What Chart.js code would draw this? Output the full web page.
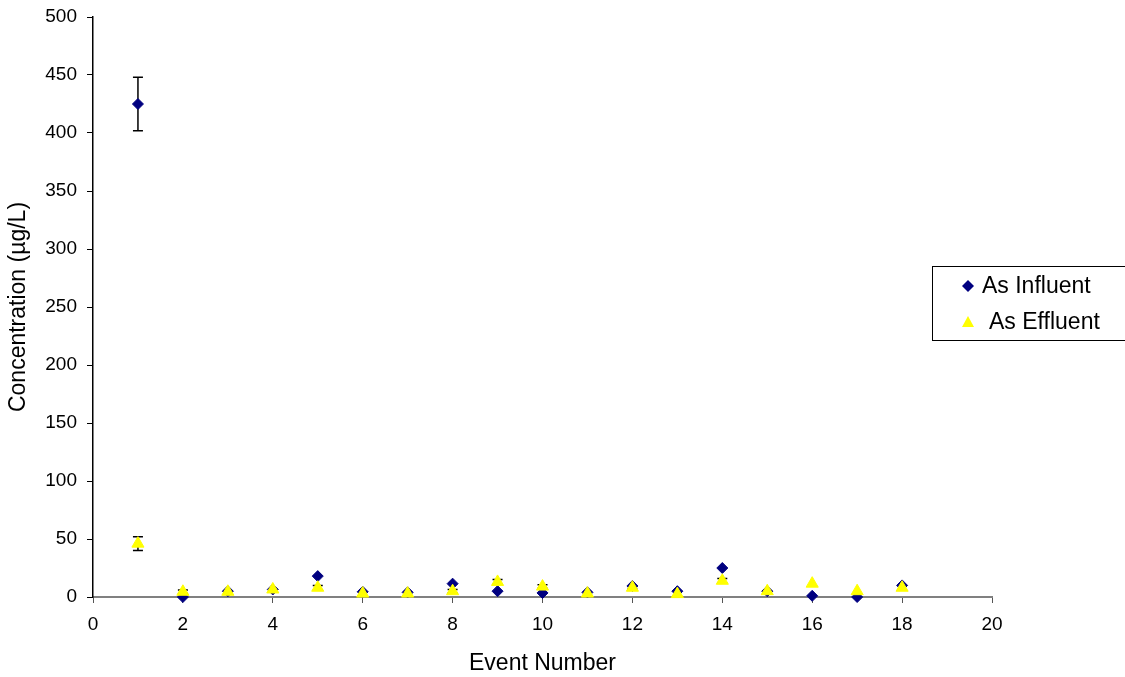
<!DOCTYPE html>
<html>
<head>
<meta charset="utf-8">
<script src="https://cdn.jsdelivr.net/npm/chart.js@4/dist/chart.umd.min.js"></script>
<style>
  html, body { margin: 0; padding: 0; background: #fff; }
  #wrap { width: 1125px; height: 677px; position: relative; }
</style>
</head>
<body>
<div id="wrap"><canvas id="chart" width="1125" height="677"></canvas></div>
<script>
// event numbers and concentrations
const events = [1, 2, 3, 4, 5, 6, 7, 8, 9, 10, 11, 12, 13, 14, 15, 16, 17, 18];
const influent = [425, 0, 5, 6.5, 18, 4.5, 4, 11.5, 5, 3.5, 4, 9.5, 5, 25, 5, 1, 0, 10];
const effluent = [46, 4.5, 4.5, 6.5, 8, 3, 3, 5, 13, 9, 3, 8, 2.5, 14, 5, 11.5, 5, 8];
const influentErr = [23, 0, 0, 0, 0, 0, 0, 0, 0, 0, 0, 0, 0, 0, 0, 0, 0, 0];
const effluentErr = [6, 1.5, 0, 0, 2, 0, 0, 1.5, 2, 1.5, 0, 1, 0, 2, 0, 0, 0, 0];
const xTicks = [0, 2, 4, 6, 8, 10, 12, 14, 16, 18, 20];
const yTicks = [0, 50, 100, 150, 200, 250, 300, 350, 400, 450, 500];

const FONT = "Arial, 'Liberation Sans', sans-serif";

function toPoints(values) {
  return events.map((e, i) => ({ x: e, y: values[i] }));
}

// draws the vertical error bars through the chart scales
const errorBars = {
  id: 'errorBars',
  beforeDatasetsDraw(chart) {
    const { ctx, scales: { x, y } } = chart;
    ctx.save();
    ctx.strokeStyle = '#000';
    ctx.lineWidth = 1.5;
    chart.data.datasets.forEach(ds => {
      ds.data.forEach((p, i) => {
        const err = ds.errors[i];
        if (!err) return;
        const px = x.getPixelForValue(p.x);
        const top = y.getPixelForValue(p.y + err);
        const bot = y.getPixelForValue(Math.max(p.y - err, 0));
        ctx.beginPath();
        ctx.moveTo(px, top); ctx.lineTo(px, bot);
        ctx.moveTo(px - 5, top); ctx.lineTo(px + 5, top);
        ctx.moveTo(px - 5, bot); ctx.lineTo(px + 5, bot);
        ctx.stroke();
      });
    });
    ctx.restore();
  }
};

// floating boxed legend over the right side of the plot
const boxLegend = {
  id: 'boxLegend',
  afterDraw(chart) {
    const { ctx } = chart;
    const ds = chart.data.datasets;
    ctx.save();
    ctx.fillStyle = '#fff';
    ctx.fillRect(932, 266, 200, 74);
    ctx.strokeStyle = '#000';
    ctx.lineWidth = 1;
    ctx.strokeRect(932.5, 266.5, 200, 74);
    ctx.font = '23px ' + FONT;
    ctx.textBaseline = 'middle';
    // influent marker + text
    ctx.fillStyle = ds[1].backgroundColor;
    ctx.beginPath();
    ctx.moveTo(968, 280); ctx.lineTo(974, 286); ctx.lineTo(968, 292); ctx.lineTo(962, 286);
    ctx.closePath(); ctx.fill();
    ctx.fillStyle = '#000';
    ctx.fillText(ds[1].label, 982, 287);
    // effluent marker + text
    ctx.fillStyle = ds[0].backgroundColor;
    ctx.beginPath();
    ctx.moveTo(968, 316); ctx.lineTo(974, 327); ctx.lineTo(962, 327);
    ctx.closePath(); ctx.fill();
    ctx.fillStyle = '#000';
    ctx.fillText(ds[0].label, 989, 323);
    ctx.restore();
  }
};

new Chart(document.getElementById('chart'), {
  type: 'scatter',
  data: {
    datasets: [
      {
        label: 'As Effluent',
        data: toPoints(effluent),
        errors: effluentErr,
        pointStyle: 'triangle',
        radius: 7,
        backgroundColor: '#FFFF00',
        borderColor: '#FFFF00',
        borderWidth: 1,
        clip: false,
        order: 1
      },
      {
        label: 'As Influent',
        data: toPoints(influent),
        errors: influentErr,
        pointStyle: 'rectRot',
        radius: 5.5,
        backgroundColor: '#000080',
        borderColor: '#000080',
        borderWidth: 1,
        clip: false,
        order: 2
      }
    ]
  },
  options: {
    responsive: false,
    animation: false,
    layout: { padding: { left: 0, top: 17, right: 133, bottom: 0 } },
    plugins: {
      legend: { display: false },
      tooltip: { enabled: false }
    },
    scales: {
      x: {
        type: 'linear',
        min: 0, max: 20,
        afterBuildTicks: s => { s.ticks = xTicks.map(v => ({ value: v })); },
        afterFit: s => { s.height = 80; s.paddingRight = 0; s.paddingLeft = 0; },
        grid: { drawOnChartArea: false, drawTicks: true, tickLength: 6, color: '#555', lineWidth: 1 },
        border: { display: true, color: '#808080', width: 2 },
        ticks: { color: '#000', padding: 10, maxRotation: 0, font: { family: FONT, size: 19 } },
        title: {
          display: true, text: 'Event Number', color: '#000',
          font: { family: FONT, size: 23 }, padding: { top: 0, bottom: 0 }
        }
      },
      y: {
        type: 'linear',
        min: 0, max: 500,
        afterBuildTicks: s => { s.ticks = yTicks.map(v => ({ value: v })); },
        afterFit: s => { s.width = 93; s.paddingTop = 0; s.paddingBottom = 0; },
        grid: { drawOnChartArea: false, drawTicks: true, tickLength: 6, color: '#000', lineWidth: 1 },
        border: { display: true, color: '#000', width: 1.5 },
        ticks: { color: '#000', padding: 10, font: { family: FONT, size: 19 } },
        title: {
          display: true, text: 'Concentration (µg/L)', color: '#000',
          font: { family: FONT, size: 23 }, padding: { top: 5, bottom: 0 }
        }
      }
    }
  },
  plugins: [errorBars, boxLegend]
});
</script>
</body>
</html>
